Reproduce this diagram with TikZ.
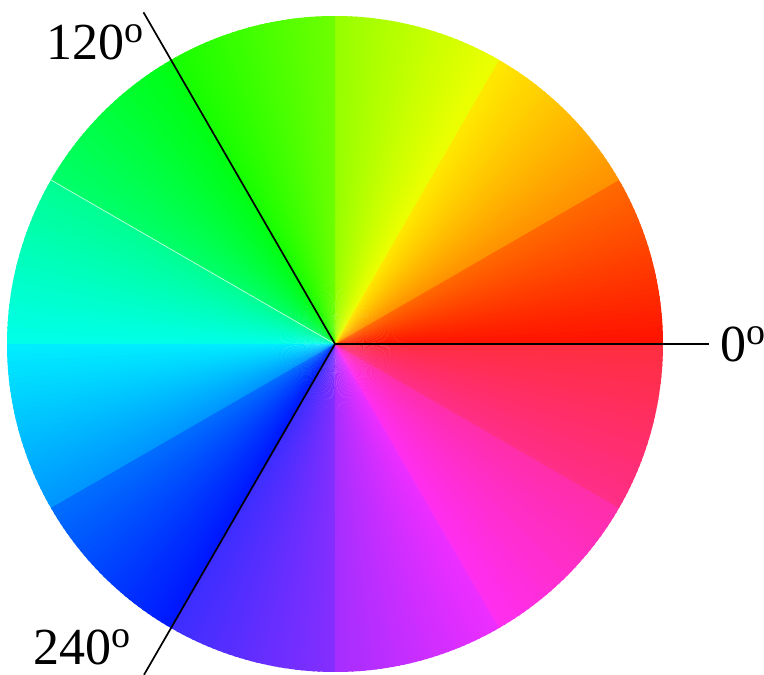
\documentclass[tikz,border=0pt]{standalone}
\usepackage{fontspec}
\setmainfont{Liberation Serif}
\newcommand\dego{\raisebox{17pt}{\fontsize{38}{40}\selectfont o}}
\begin{document}
\begin{tikzpicture}[x=1pt,y=1pt,
  axisline/.style={line width=1.7pt, black},
  seam/.style={white, line width=0.7pt, opacity=0.75},
  deglabel/.style={inner sep=0pt, font=\fontsize{52}{60}\selectfont}]
\useasboundingbox (0,0) rectangle (764,675);
\coordinate (O) at (335,331);
\foreach \a in {0,...,359}{
  \pgfmathsetmacro\k{floor(\a/30)}
  \pgfmathsetmacro\h{30*\k+4+0.7*(\a+0.5-30*\k)}
  \pgfmathsetmacro\s{\h>240 ? 0.82 : 1}
  \pgfmathsetmacro\e{min(\a+1.4,360)}
  \definecolor{wc}{Hsb}{\h,\s,1}
  \fill[wc] (O) -- ++(\a:328) arc[start angle=\a, end angle=\e, radius=328] -- cycle;
}
\coordinate (e150) at ([shift={(150:328)}]O);
\draw[seam] (O) -- (e150);
\coordinate (e0) at (709,331);
\coordinate (e120) at ([shift={(120:383)}]O);
\coordinate (e240) at ([shift={(240:382)}]O);
\draw[axisline] (O) -- (e0);
\draw[axisline] (O) -- (e120);
\draw[axisline] (O) -- (e240);
\node[deglabel, anchor=base west] (l0) at (720,313) {0\dego};
\node[deglabel, anchor=base west] (l120) at (46,615) {120\dego};
\node[deglabel, anchor=base west] (l240) at (33,10) {240\dego};
\end{tikzpicture}
\end{document}
